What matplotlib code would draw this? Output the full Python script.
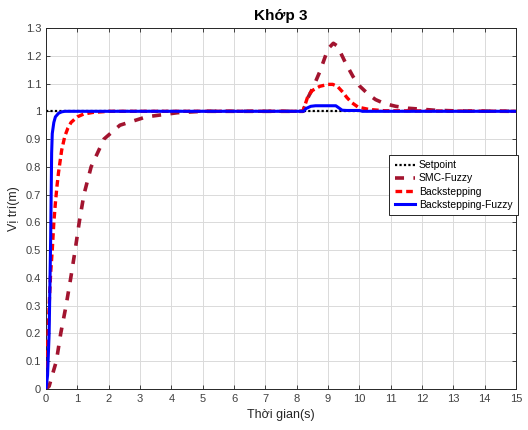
import matplotlib
matplotlib.use("Agg")
import matplotlib.pyplot as plt

plt.rcParams['font.family'] = ['Liberation Sans', 'DejaVu Sans']

# Setpoint
sp_t = [0, 15]
sp_v = [1.0, 1.0]

# SMC-Fuzzy response
smc_t = [0, 0.1, 0.2, 0.33, 0.47, 0.64, 0.79, 0.93, 1.06, 1.21, 1.44, 1.85, 2.36, 3.2, 4.2, 5.0,
         8.2, 8.35, 8.5, 8.74, 9.0, 9.17, 9.3, 9.56, 9.8, 10.0, 10.3, 10.52, 10.8, 11.16, 11.56, 12.4, 13.2, 15]
smc_v = [0, 0.01, 0.05, 0.1, 0.2, 0.3, 0.4, 0.5, 0.6, 0.7, 0.8, 0.9, 0.95, 0.98, 0.995, 1.0,
         1.0, 1.047, 1.08, 1.143, 1.225, 1.245, 1.235, 1.174, 1.125, 1.092, 1.06, 1.042, 1.028, 1.018, 1.011, 1.004, 1.001, 1.0]

# Backstepping response
bs_t = [0, 0.05, 0.1, 0.15, 0.2, 0.25, 0.3, 0.35, 0.4, 0.5, 0.6, 0.7, 0.8, 1.0, 1.2, 1.5, 2.0, 3.0,
        8.2, 8.36, 8.5, 8.74, 9.0, 9.15, 9.3, 9.48, 9.6, 9.75, 9.96, 10.3, 10.8, 15]
bs_v = [0, 0.15, 0.3, 0.42, 0.5, 0.6, 0.67, 0.73, 0.78, 0.86, 0.91, 0.94, 0.96, 0.98, 0.99, 0.996, 1.0, 1.0,
        1.0, 1.055, 1.075, 1.09, 1.097, 1.097, 1.09, 1.068, 1.05, 1.032, 1.015, 1.007, 1.002, 1.0]

# Backstepping-Fuzzy response
bsf_t = [0, 0.05, 0.1, 0.15, 0.18, 0.2, 0.25, 0.3, 0.4, 0.5, 0.6, 0.8,
         8.22, 8.3, 8.45, 8.6, 9.0, 9.25, 9.35, 9.45, 9.6, 10.0, 10.1, 15]
bsf_v = [0, 0.05, 0.2, 0.55, 0.85, 0.92, 0.96, 0.98, 0.993, 0.998, 1.0, 1.0,
         1.0, 1.01, 1.018, 1.02, 1.02, 1.02, 1.012, 1.004, 1.003, 1.003, 1.0, 1.0]

x_ticks = list(range(0, 16))
y_ticks = [0, 0.1, 0.2, 0.3, 0.4, 0.5, 0.6, 0.7, 0.8, 0.9, 1, 1.1, 1.2, 1.3]

fig = plt.figure(figsize=(5.28, 4.30), dpi=100)
ax = fig.add_axes([46 / 528, 1 - 389 / 430, 470 / 528, 361 / 430])

ax.plot(sp_t, sp_v, color='black', linestyle=(0, (1, 1)), linewidth=1.6, label='Setpoint', zorder=2)
ax.plot(smc_t, smc_v, color='#A2142F', linestyle=(0, (2.5, 2.6)), linewidth=2.6, label='SMC-Fuzzy', zorder=3)
ax.plot(bs_t, bs_v, color='#FF0000', linestyle=(0, (2.0, 1.2)), linewidth=2.4, label='Backstepping', zorder=4)
ax.plot(bsf_t, bsf_v, color='#0000FF', linestyle='-', linewidth=2.2, label='Backstepping-Fuzzy', zorder=5)

ax.set_xlim(0, 15)
ax.set_ylim(0, 1.3)
ax.set_xticks(x_ticks)
ax.set_yticks(y_ticks)
ax.set_xticklabels([str(t) for t in x_ticks])
ax.set_yticklabels(['0', '0.1', '0.2', '0.3', '0.4', '0.5', '0.6', '0.7', '0.8', '0.9', '1', '1.1', '1.2', '1.3'])
ax.tick_params(direction='in', length=3, width=0.6, top=True, right=True,
               labelsize=8, colors='#262626', labelcolor='#404040')
ax.grid(True, color='#DADADA', linewidth=0.7)
for s in ax.spines.values():
    s.set_color('#262626')
    s.set_linewidth(0.7)

ax.set_title('Khớp 3', fontsize=11, fontweight='bold', pad=6)
ax.set_xlabel('Thời gian(s)', fontsize=9, color='#262626', labelpad=4)
ax.set_ylabel('Vị trí(m)', fontsize=9, color='#262626', labelpad=4)

leg = ax.legend(loc='upper right', bbox_to_anchor=(1.004, 0.648), borderaxespad=0, fontsize=7.5,
                handlelength=2.0, handletextpad=0.35, borderpad=0.5, labelspacing=0.3,
                fancybox=False, framealpha=1, edgecolor='#262626')
leg.get_frame().set_linewidth(0.7)

fig.savefig('out.png', dpi=100)
